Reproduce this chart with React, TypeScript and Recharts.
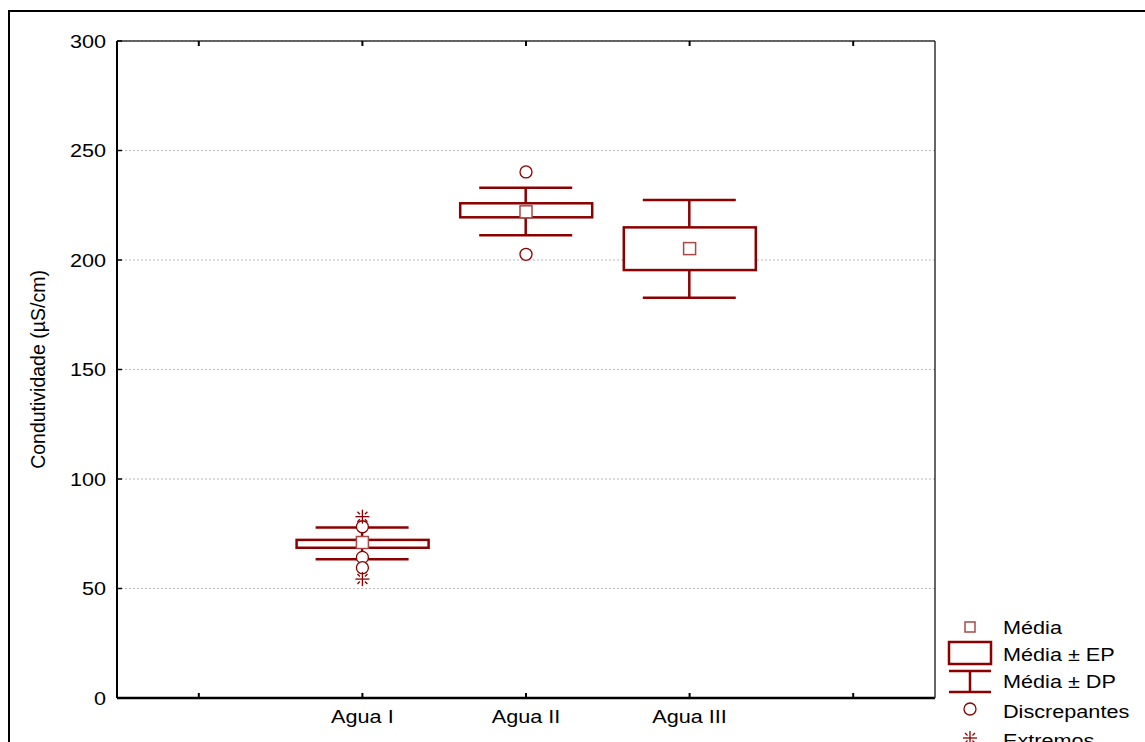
import React from "react";
import {
  ComposedChart,
  Bar,
  Scatter,
  XAxis,
  YAxis,
  CartesianGrid,
} from "recharts";

// categorias (as pontas vazias dão espaço nos lados)
const categories = ["", "Agua I", "Agua II", "Agua III", " "];
const means = [null, 71, 222, 205.2, null];
const epLow = [null, 68.6, 219.5, 195.4, null];
const epHigh = [null, 72.2, 225.9, 214.9, null];
const dpLow = [null, 63.4, 211.3, 182.8, null];
const dpHigh = [null, 77.9, 233, 227.4, null];
// discrepantes
const outA = [null, 78.2, 240.2, null, null];
const outB = [null, 64.2, 202.6, null, null];
const outC = [null, 59.5, null, null, null];
// extremos
const extA = [null, 82.8, null, null, null];
const extB = [null, 54.3, null, null, null];
const yTicks = [0, 50, 100, 150, 200, 250, 300];
const legendLabels = ["Média", "Média ± EP", "Média ± DP", "Discrepantes", "Extremos"];

const RED = "#8b0000";
const MEAN_RED = "#a84848";
const FONT = "'Liberation Sans', Arial, sans-serif";
const SX = 1.17;

const data = categories.map((name, i) => ({
  name,
  mean: means[i],
  ep: epLow[i] == null ? null : [epLow[i], epHigh[i]],
  dp: dpLow[i] == null ? null : [dpLow[i], dpHigh[i]],
  outA: outA[i],
  outB: outB[i],
  outC: outC[i],
  extA: extA[i],
  extB: extB[i],
}));

const ok = (v: any) => typeof v === "number" && isFinite(v);

const Whisker = (p: any) => {
  if (!p.payload || !p.payload.dp || !ok(p.y)) return null;
  const cx = p.x + p.width / 2;
  return (
    <g stroke={RED} strokeWidth={2.5}>
      <line x1={cx} x2={cx} y1={p.y} y2={p.y + p.height} />
      <line x1={p.x} x2={p.x + p.width} y1={p.y} y2={p.y} />
      <line x1={p.x} x2={p.x + p.width} y1={p.y + p.height} y2={p.y + p.height} />
    </g>
  );
};

const Box = (p: any) => {
  if (!p.payload || !p.payload.ep || !ok(p.y)) return null;
  return <rect x={p.x} y={p.y} width={p.width} height={p.height} fill="#fff" stroke={RED} strokeWidth={2.5} />;
};

const MeanMark = (p: any) => {
  if (!ok(p.cx) || !ok(p.cy) || p.payload?.mean == null) return <g />;
  return <rect x={p.cx - 6} y={p.cy - 6} width={12} height={12} fill="#fff" stroke={MEAN_RED} strokeWidth={1.5} />;
};

const circleFor = (key: string) => (p: any) => {
  if (!ok(p.cx) || !ok(p.cy) || p.payload?.[key] == null) return <g />;
  return <circle cx={p.cx} cy={p.cy} r={6} fill="#fff" stroke={RED} strokeWidth={1.3} />;
};

const StarIcon = ({ cx, cy }: { cx: number; cy: number }) => (
  <g stroke={RED} strokeWidth={1.3}>
    <line x1={cx - 7} x2={cx + 7} y1={cy} y2={cy} />
    <line x1={cx} x2={cx} y1={cy - 7} y2={cy + 7} />
    <line x1={cx - 5} x2={cx - 2.5} y1={cy - 5} y2={cy - 2.5} />
    <line x1={cx + 5} x2={cx + 2.5} y1={cy - 5} y2={cy - 2.5} />
    <line x1={cx - 5} x2={cx - 2.5} y1={cy + 5} y2={cy + 2.5} />
    <line x1={cx + 5} x2={cx + 2.5} y1={cy + 5} y2={cy + 2.5} />
  </g>
);

const starFor = (key: string) => (p: any) => {
  if (!ok(p.cx) || !ok(p.cy) || p.payload?.[key] == null) return <g />;
  return <StarIcon cx={p.cx} cy={p.cy} />;
};

const XTick = (p: any) => (
  <text
    transform={`translate(${p.x},${p.y}) scale(${SX},1)`}
    textAnchor="middle"
    dy="0.71em"
    fontSize={18.5}
    fontFamily={FONT}
    fill="#000"
  >
    {p.payload.value}
  </text>
);

const YTick = (p: any) => (
  <text
    transform={`translate(${p.x},${p.y}) scale(${SX},1)`}
    textAnchor="end"
    dy="0.355em"
    fontSize={18.5}
    fontFamily={FONT}
    fill="#000"
  >
    {p.payload.value}
  </text>
);

const Blank = () => <g />;

const YLabel = (p: any) => {
  const vb = p.viewBox || {};
  const x = vb.x - 19;
  const y = vb.y + vb.height / 2;
  return (
    <text
      transform={`translate(${x},${y}) rotate(-90)`}
      textAnchor="middle"
      dy="0.355em"
      fontSize={19.5}
      fontFamily={FONT}
      fill="#000"
    >
      Condutividade (µS/cm)
    </text>
  );
};

function LegendBlock() {
  const tx = 1003;
  const rows = [627, 654, 681, 711, 740];
  return (
    <svg
      width={1145}
      height={742}
      style={{ position: "absolute", left: 0, top: 0, pointerEvents: "none" }}
    >
      <rect x={965} y={622} width={10} height={10} fill="#fff" stroke={MEAN_RED} strokeWidth={1.5} />
      <rect x={949} y={642} width={42} height={22} fill="#fff" stroke={RED} strokeWidth={2.5} />
      <g stroke={RED} strokeWidth={2.5}>
        <line x1={949} x2={991} y1={671} y2={671} />
        <line x1={949} x2={991} y1={692} y2={692} />
        <line x1={970} x2={970} y1={671} y2={692} />
      </g>
      <circle cx={970} cy={709} r={6} fill="#fff" stroke={RED} strokeWidth={1.3} />
      <StarIcon cx={970} cy={738} />
      {legendLabels.map((t, i) => (
        <text
          key={t}
          transform={`translate(${tx},${rows[i]}) scale(${SX},1)`}
          dy="0.355em"
          fontSize={18.5}
          fontFamily={FONT}
          fill="#000"
        >
          {t}
        </text>
      ))}
    </svg>
  );
}

export default function App() {
  return (
    <div
      style={{
        position: "fixed",
        left: 0,
        top: 0,
        width: 1145,
        height: 742,
        overflow: "hidden",
        background: "#fff",
        fontFamily: FONT,
      }}
    >
      <div
        style={{
          position: "absolute",
          left: 8,
          top: 10,
          width: 2000,
          height: 2000,
          borderLeft: "2px solid #000",
          borderTop: "2px solid #000",
        }}
      />
      <div style={{ position: "absolute", left: 0, top: 0 }}>
        <ComposedChart
          width={1145}
          height={742}
          data={data}
          margin={{ top: 39, right: 208, bottom: 4, left: 57 }}
        >
          <CartesianGrid
            yAxisId="left"
            xAxisId="main"
            vertical={false}
            stroke="#b8b8b8"
            strokeDasharray="2 2"
          />
          <XAxis
            xAxisId="main"
            dataKey="name"
            type="category"
            height={40}
            interval={0}
            tickSize={-5}
            tickMargin={17}
            tick={<XTick />}
            axisLine={{ stroke: "#000", strokeWidth: 2.5 }}
            tickLine={{ stroke: "#000", strokeWidth: 2 }}
          />
          <XAxis xAxisId="box" dataKey="name" type="category" height={0} hide />
          <XAxis
            xAxisId="top"
            dataKey="name"
            type="category"
            orientation="top"
            height={2}
            interval={0}
            tickSize={-5}
            tick={<Blank />}
            axisLine={{ stroke: "#333", strokeWidth: 1.5 }}
            tickLine={{ stroke: "#000", strokeWidth: 2 }}
          />
          <YAxis
            yAxisId="left"
            type="number"
            domain={[0, 300]}
            ticks={yTicks}
            width={60}
            tickSize={-5}
            tickMargin={16}
            tick={<YTick />}
            axisLine={{ stroke: "#000", strokeWidth: 2 }}
            tickLine={{ stroke: "#000", strokeWidth: 1.5 }}
            label={{ content: YLabel }}
          />
          <YAxis
            yAxisId="right"
            orientation="right"
            type="number"
            domain={[0, 300]}
            width={2}
            tick={<Blank />}
            tickLine={false}
            axisLine={{ stroke: "#333", strokeWidth: 1.5 }}
          />
          <Bar
            xAxisId="main"
            yAxisId="left"
            dataKey="dp"
            barSize={93}
            shape={Whisker}
            isAnimationActive={false}
          />
          <Bar
            xAxisId="box"
            yAxisId="left"
            dataKey="ep"
            barSize={132}
            shape={Box}
            isAnimationActive={false}
          />
          <Scatter xAxisId="main" yAxisId="left" dataKey="outA" shape={circleFor("outA")} isAnimationActive={false} />
          <Scatter xAxisId="main" yAxisId="left" dataKey="outB" shape={circleFor("outB")} isAnimationActive={false} />
          <Scatter xAxisId="main" yAxisId="left" dataKey="outC" shape={circleFor("outC")} isAnimationActive={false} />
          <Scatter xAxisId="main" yAxisId="left" dataKey="mean" shape={MeanMark} isAnimationActive={false} />
          <Scatter xAxisId="main" yAxisId="left" dataKey="extA" shape={starFor("extA")} isAnimationActive={false} />
          <Scatter xAxisId="main" yAxisId="left" dataKey="extB" shape={starFor("extB")} isAnimationActive={false} />
        </ComposedChart>
      </div>
      <LegendBlock />
    </div>
  );
}
